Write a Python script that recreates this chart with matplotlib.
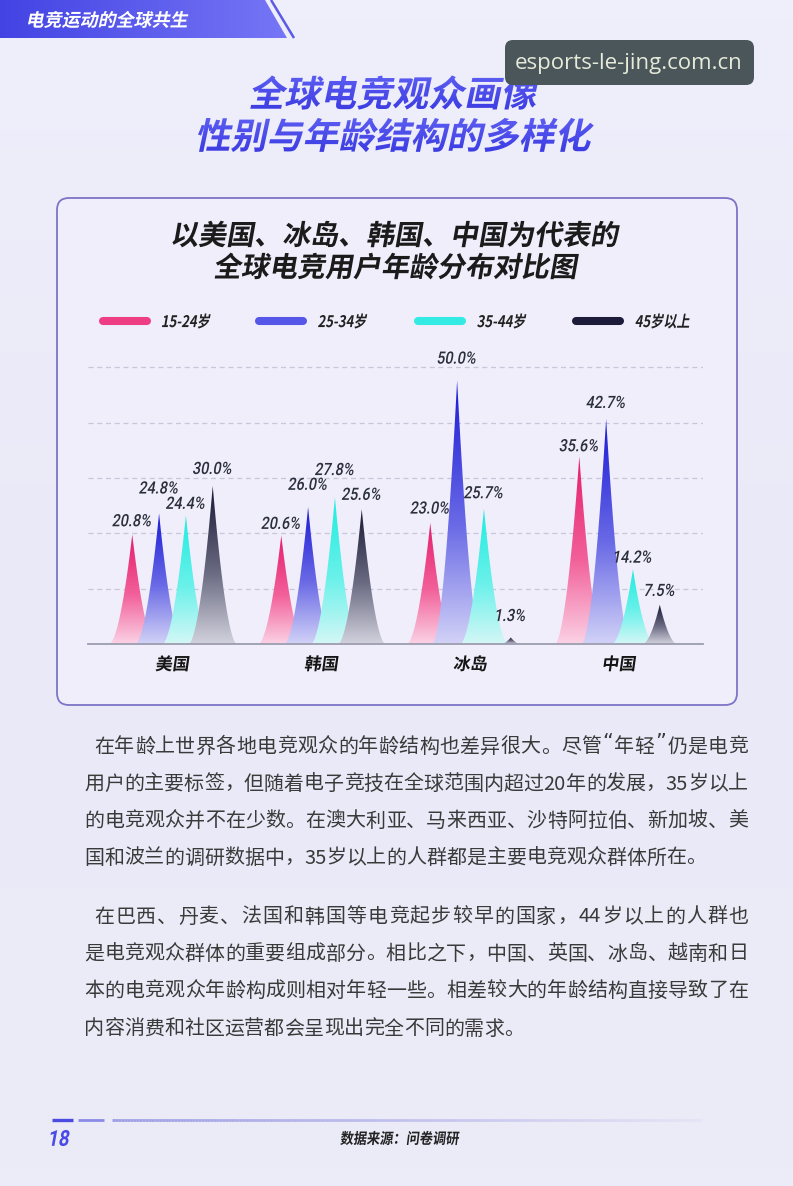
import numpy as np
import matplotlib
matplotlib.use("Agg")
import matplotlib.pyplot as plt
from matplotlib.colors import LinearSegmentedColormap
from matplotlib.patches import Polygon, PathPatch, FancyBboxPatch
from matplotlib.textpath import TextPath
from matplotlib.font_manager import FontProperties
from matplotlib.transforms import Affine2D

countries = ['美国', '韩国', '冰岛', '中国']
age_groups = ['15-24岁', '25-34岁', '35-44岁', '45岁以上']
share_15_24 = [20.8, 20.6, 23.0, 35.6]
share_25_34 = [24.8, 26.0, 50.0, 42.7]
share_35_44 = [24.4, 27.8, 25.7, 14.2]
share_45_up = [30.0, 25.6, 1.3, 7.5]
grid_levels = [10.5, 21, 31.5, 42, 52.5]

series = [share_15_24, share_25_34, share_35_44, share_45_up]
# how far each value label sits above its peak (staggered like the original)
label_lift = [[2.7, 2.4, 2.9, 2.1],
              [4.9, 4.4, 4.3, 3.2],
              [2.4, 5.4, 3.1, 2.4],
              [3.4, 2.9, 4.25, 2.8]]
# bottom, middle, top colour of each spike
spike_colors = [('#fbd2e5', '#f2609a', '#e41d6a'),
                ('#d2d2f7', '#6a6ae6', '#1a1ad6'),
                ('#d4f7f6', '#6af1ea', '#1eece0'),
                ('#d2d2de', '#6a6a82', '#181834')]
legend_colors = ['#ee3d82', '#5656e8', '#34ebe3', '#1c1c3a']

title_lines = ['全球电竞观众画像', '性别与年龄结构的多样化']
chart_title = ['以美国、冰岛、韩国、中国为代表的', '全球电竞用户年龄分布对比图']
body_lines = [
    '在年龄上世界各地电竞观众的年龄结构也差异很大。尽管“年轻”仍是电竞',
    '用户的主要标签，但随着电子竞技在全球范围内超过20年的发展，35岁以上',
    '的电竞观众并不在少数。在澳大利亚、马来西亚、沙特阿拉伯、新加坡、美',
    '国和波兰的调研数据中，35岁以上的人群都是主要电竞观众群体所在。',
    '在巴西、丹麦、法国和韩国等电竞起步较早的国家，44岁以上的人群也',
    '是电竞观众群体的重要组成部分。相比之下，中国、英国、冰岛、越南和日',
    '本的电竞观众年龄构成则相对年轻一些。相差较大的年龄结构直接导致了在',
    '内容消费和社区运营都会呈现出完全不同的需求。',
]
body_start = [94, 84, 84, 84, 94, 84, 84, 84]
body_y = [747, 784, 821, 858, 917, 954, 991, 1029]
body_justify = [True, True, True, False, True, True, True, False]

CJK = 'Noto Sans CJK SC'
W, H = 793, 1186

fig = plt.figure(figsize=(W / 100, H / 100), dpi=100)
fig.patch.set_facecolor('#ecebf8')


def page_axes(z):
    a = fig.add_axes([0, 0, 1, 1], zorder=z)
    a.set_xlim(0, W)
    a.set_ylim(H, 0)
    a.axis('off')
    a.patch.set_alpha(0)
    return a


bg = page_axes(0)
top = page_axes(3)


def grad_fill(a, patch, colors, box, horizontal=False, z=1):
    x0, x1, y0, y1 = box
    g = np.linspace(0, 1, 256)
    g = g.reshape(1, -1) if horizontal else g.reshape(-1, 1)
    cm = LinearSegmentedColormap.from_list('g', colors)
    im = a.imshow(g, extent=(x0, x1, y1, y0), origin='upper', cmap=cm,
                  aspect='auto', zorder=z, interpolation='bilinear')
    im.set_clip_path(patch)


def skew_text(a, x, y, s, size, color='#1b1b1b', family=CJK, weight='bold',
              skew=12, sx=1.0, ha='center', z=5, gradient=None):
    fp = FontProperties(family=family, weight=weight)
    tp = TextPath((0, 0), s, size=size, prop=fp)
    ext = tp.get_extents()
    ax0 = {'center': (ext.x0 + ext.x1) / 2, 'left': ext.x0, 'right': ext.x1}[ha]
    tr = (Affine2D().translate(-ax0, -(ext.y0 + ext.y1) / 2)
          .skew_deg(skew, 0).scale(sx, -1).translate(x, y))
    path = tr.transform_path(tp)
    if gradient is None:
        a.add_patch(PathPatch(path, fc=color, ec='none', lw=0, zorder=z))
    else:
        p = PathPatch(path, fc='none', ec='none', lw=0, zorder=z)
        a.add_patch(p)
        e = path.get_extents()
        grad_fill(a, p, gradient, (e.x0, e.x1, e.y0, e.y1), z=z)


# page background
cm_bg = LinearSegmentedColormap.from_list('bg', ['#efeefb', '#eae9f7', '#ecebf8'])
bg.imshow(np.linspace(0, 1, 64).reshape(-1, 1), extent=(0, W, H, 0), cmap=cm_bg,
          aspect='auto', zorder=0)

# header banner
banner = Polygon([(0, 0), (265, 0), (287, 38), (0, 38)], closed=True,
                 fc='none', ec='none', zorder=1)
bg.add_patch(banner)
grad_fill(bg, banner, ['#4343e4', '#7676f6'], (0, 287, 0, 38), horizontal=True, z=1)
bg.plot([271, 294], [0, 38], color='#5a5ae6', lw=1.8, zorder=2, solid_capstyle='butt')
skew_text(top, 29, 19.5, '电竞运动的全球共生', 18, color='white', ha='left', skew=12)

# main title
skew_text(top, 395, 92.5, title_lines[0], 36, weight='heavy', skew=12,
          gradient=['#5c5ef2', '#3c3ce2'])
skew_text(top, 395, 135, title_lines[1], 36, weight='heavy', skew=12,
          gradient=['#5c5ef2', '#3c3ce2'])

# watermark
top.add_patch(FancyBboxPatch((505, 40), 249, 45, boxstyle='round,pad=0,rounding_size=8',
                             fc='#4a5659', ec='none', zorder=8))
top.text(629, 63, 'esports-le-jing.com.cn', fontsize=16, family='Open Sans',
         color='#e6ead9', ha='center', va='center', zorder=9)

# chart card
bg.add_patch(FancyBboxPatch((57, 198), 680, 507, boxstyle='round,pad=0,rounding_size=12',
                            fc='#efeefa', ec='#7c74c6', lw=1.3, zorder=1))
skew_text(top, 396, 234, chart_title[0], 28, skew=10)
skew_text(top, 396, 266, chart_title[1], 28, skew=10)

# legend
leg_x = [99, 255, 414, 572]
for i, name in enumerate(age_groups):
    top.plot([leg_x[i] + 4, leg_x[i] + 48], [321, 321], color=legend_colors[i],
             lw=5.8, solid_capstyle='round', zorder=5)
    skew_text(top, leg_x[i] + 64, 321, name, 16, weight='bold', sx=0.82,
              ha='left', color='#222222')

# spikes
ax = fig.add_axes([88 / W, (H - 644.3) / H, (703 - 88) / W, 56 * 5.28 / H], zorder=1)
ax.set_xlim(-0.567, 3.56)
ax.set_ylim(0, 56)
ax.axis('off')
ax.patch.set_alpha(0)
for g in grid_levels:
    ax.axhline(g, color='#c8c6da', lw=0.9, ls=(0, (4, 3)), zorder=1)

px_per_unit = (703 - 88) / (3.56 + 0.567)
offsets = (np.arange(4) - 1.5) * 0.18
t = np.linspace(-1, 1, 401)
for s, vals in enumerate(series):
    cm = LinearSegmentedColormap.from_list('sp', [(0, spike_colors[s][0]),
                                                  (0.45, spike_colors[s][1]),
                                                  (1, spike_colors[s][2])])
    for c, v in enumerate(vals):
        xc = c + offsets[s]
        half = (8 + 17 * (1 - np.exp(-v / 9))) / px_per_unit
        xs = xc + t * half
        ys = v * (1 - np.abs(t)) ** 1.8
        poly = Polygon(np.column_stack([xs, ys]), closed=True, fc='none', ec='none')
        ax.add_patch(poly)
        im = ax.imshow(np.linspace(0, 1, 256).reshape(-1, 1), extent=(xc - half, xc + half, 0, v),
                       origin='lower', cmap=cm, aspect='auto', zorder=2 + s,
                       interpolation='bilinear')
        im.set_clip_path(poly)
ax.axhline(0, color='#9d9db0', lw=1.3, zorder=10, clip_on=False)
ax.set_xlim(-0.567, 3.56)
ax.set_ylim(0, 56)


def to_page(x, y):
    return top.transData.inverted().transform(ax.transData.transform((x, y)))


for s, vals in enumerate(series):
    for c, v in enumerate(vals):
        px, py = to_page(c + offsets[s], v + label_lift[s][c])
        skew_text(top, px, py, f'{v:.1f}%', 17, family='Roboto', weight='medium',
                  sx=0.85, color='#2b2e3c')

for c, name in enumerate(countries):
    px, py = to_page(c, -3.6)
    skew_text(top, px, py, name, 17, weight='bold', skew=8, color='#151515')


# body text, justified
def tokens(line):
    out, buf = [], ''
    for ch in line:
        if ch.isascii():
            buf += ch
        else:
            if buf:
                out.append(buf)
                buf = ''
            out.append(ch)
    if buf:
        out.append(buf)
    return out


def tok_w(tk):
    if tk.isascii():
        return 0.56 * len(tk)
    if tk in '“”':
        return 0.6
    return 1.0


unit = 20
for i, line in enumerate(body_lines):
    tks = tokens(line)
    ws = [tok_w(k) * unit for k in tks]
    gap = (748 - body_start[i] - sum(ws)) / (len(tks) - 1) if body_justify[i] else 0
    x = body_start[i]
    for k, w in zip(tks, ws):
        if k in '“”':
            top.text(x + w / 2, body_y[i] - 4, k, fontsize=15, family='DejaVu Sans',
                     color='#3a3a3a', ha='center', va='center')
        else:
            top.text(x, body_y[i], k, fontsize=14.4, family=[CJK, 'DejaVu Sans'],
                     color='#3a3a3a', ha='left', va='center')
        x += w + gap

# footer
bg.plot([52, 73], [1120, 1120], color='#4b4be2', lw=2.4, solid_capstyle='butt', zorder=2)
bg.plot([78, 104], [1120, 1120], color='#8c8ce8', lw=2.0, solid_capstyle='butt', zorder=2)
fx = np.linspace(112, 702, 200)
for j in range(len(fx) - 1):
    a_ = 0.75 * (1 - j / len(fx)) + 0.05
    bg.plot(fx[j:j + 2], [1120, 1120], color='#8a8ae0', alpha=a_, lw=2.0,
            solid_capstyle='butt', zorder=2)
skew_text(top, 50, 1138, '18', 22, family='Roboto', weight='bold', sx=0.85,
          ha='left', color='#4a4ae6')
skew_text(top, 400, 1138, '数据来源：问卷调研', 15, weight='bold', sx=0.88, skew=8,
          color='#222222')

for a in (bg, top):
    a.set_xlim(0, W)
    a.set_ylim(H, 0)

fig.savefig('out.png', dpi=100, facecolor=fig.get_facecolor())
